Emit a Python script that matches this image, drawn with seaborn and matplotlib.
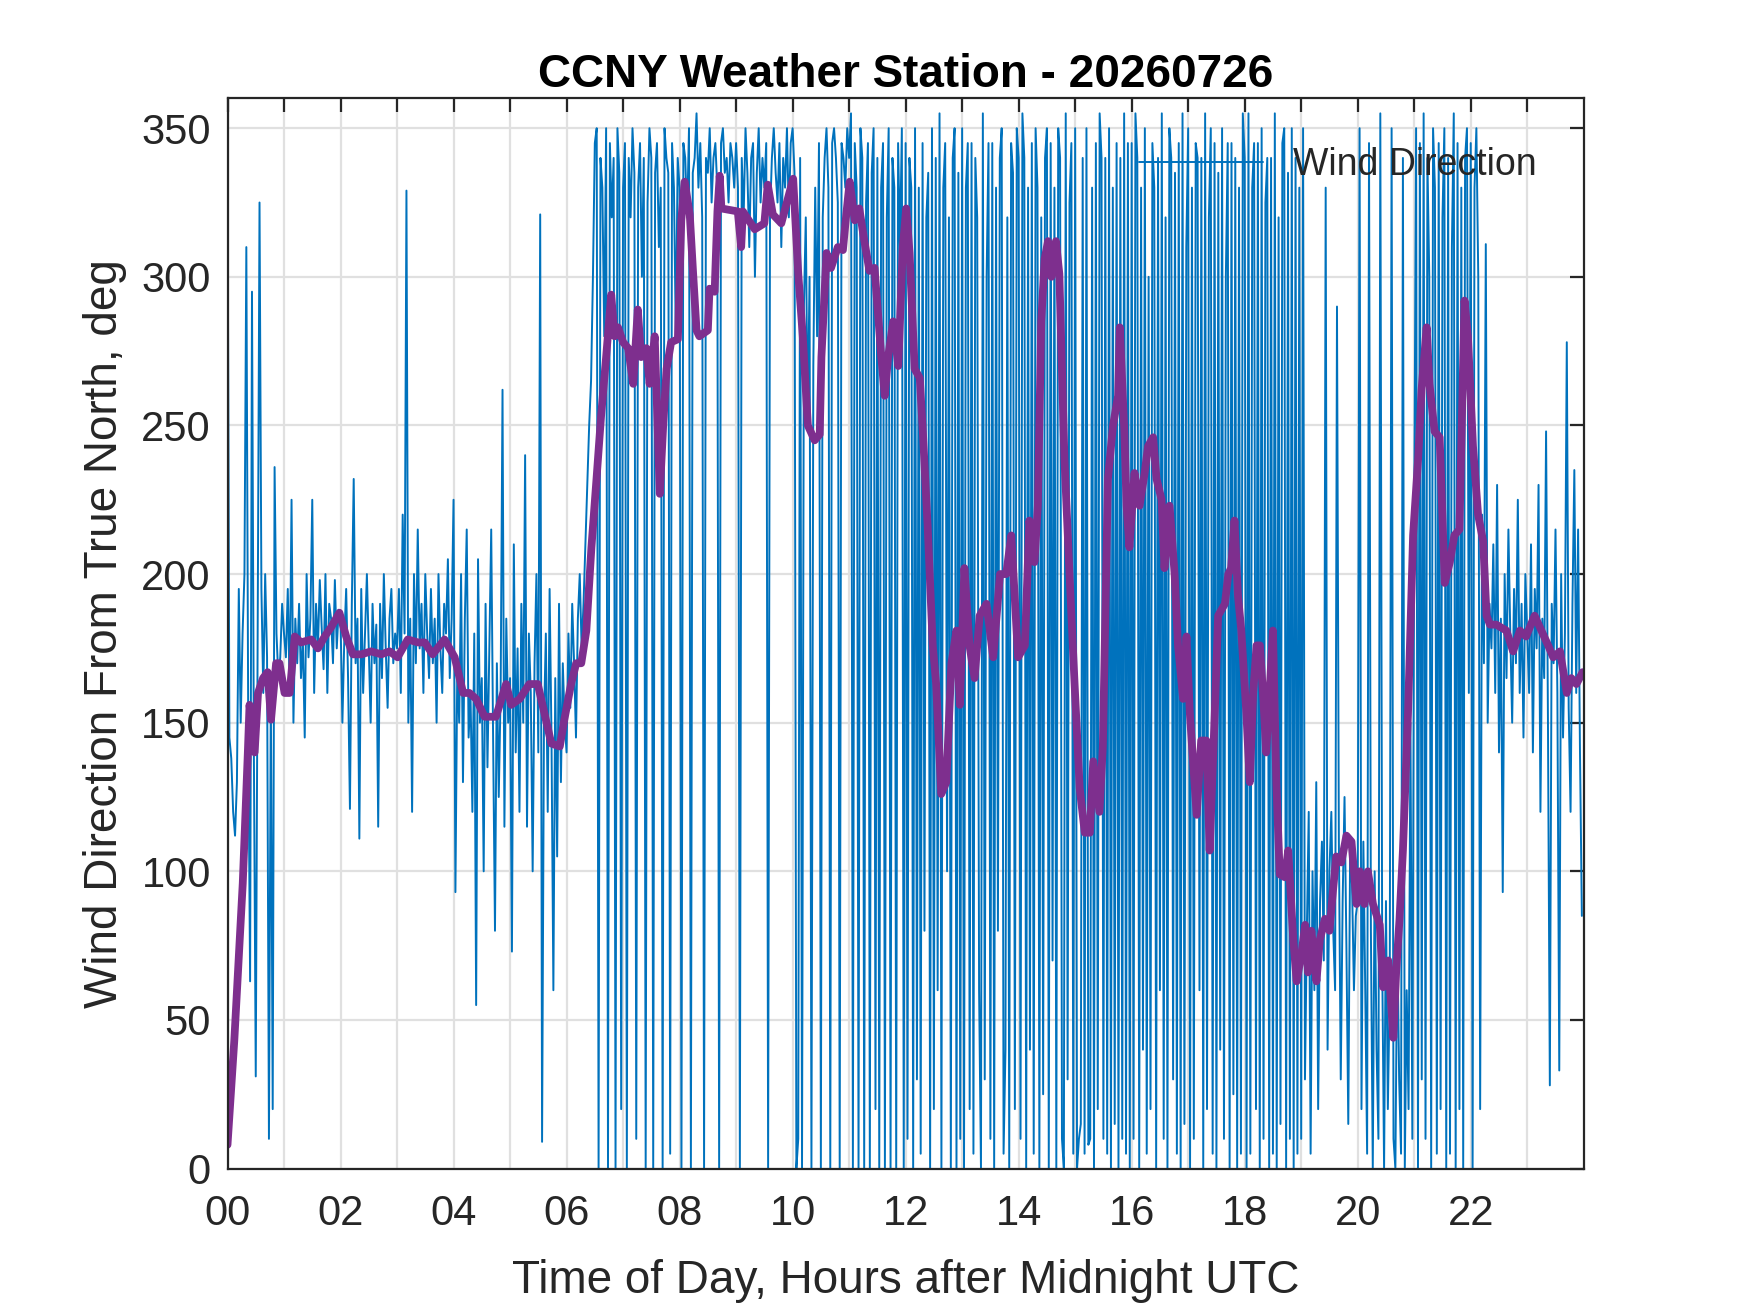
"""
Dirección del viento - estación CCNY (20260726)
Serie cruda (azul) y serie suavizada (morado), estilo MATLAB.
"""

import numpy as np
import pandas as pd
import matplotlib
matplotlib.use("Agg")
import matplotlib.pyplot as plt
import seaborn as sns

# ---------------------------------------------------------------
# Datos
# ---------------------------------------------------------------
TITULO = "CCNY Weather Station - 20260726"
XLABEL = "Time of Day, Hours after Midnight UTC"
YLABEL = "Wind Direction From True North, deg"
LEYENDA = "Wind Direction"

# dirección cruda, una fila por hora (muestras equiespaciadas dentro de la hora)
viento_h00 = [340, 145, 138, 120, 112, 130, 195, 150, 180, 200, 310, 150, 63, 295, 140,
              31, 175, 325, 195, 160, 200, 172, 10, 160, 20, 236, 180, 165, 172, 190]
viento_h01 = [180, 172, 195, 160, 225, 150, 185, 170, 190, 165, 178, 145, 200, 172, 185,
              225, 160, 190, 175, 198, 182, 168, 200, 160, 190, 185, 170, 198, 175, 188]
viento_h02 = [185, 150, 178, 195, 165, 121, 190, 232, 170, 185, 111, 195, 160, 180, 200,
              175, 150, 190, 170, 183, 115, 190, 165, 200, 175, 155, 185, 195, 170, 180]
viento_h03 = [175, 195, 160, 220, 180, 329, 150, 185, 120, 200, 170, 215, 175, 190, 160,
              200, 180, 165, 195, 170, 185, 150, 200, 175, 160, 190, 180, 205, 165, 185]
viento_h04 = [225, 93, 170, 150, 200, 130, 185, 215, 145, 160, 120, 180, 55, 205, 150,
              165, 100, 190, 135, 175, 215, 145, 80, 170, 125, 160, 262, 115, 185, 150]
viento_h05 = [165, 73, 210, 140, 175, 120, 190, 150, 240, 115, 180, 160, 100, 170, 200,
              140, 321, 9, 150, 180, 120, 195, 145, 60, 165, 105, 190, 130, 170, 150]
viento_h06 = [140, 180, 155, 190, 170, 145, 185, 200, 175, 190, 210, 230, 250, 265, 300,
              345, 350, 0, 340, 330, 280, 350, 0, 345, 320, 340, 0, 350, 335, 20]
viento_h07 = [330, 345, 0, 340, 320, 350, 335, 10, 330, 345, 300, 340, 0, 325, 350,
              340, 0, 335, 345, 310, 330, 0, 350, 340, 335, 5, 345, 330, 280, 340]
viento_h08 = [330, 0, 345, 340, 320, 350, 0, 335, 340, 355, 330, 345, 320, 0, 340,
              335, 350, 325, 340, 345, 330, 0, 345, 350, 335, 340, 325, 345, 340, 330]
viento_h09 = [345, 330, 0, 340, 320, 350, 335, 310, 340, 345, 300, 335, 350, 325, 340,
              330, 345, 0, 320, 340, 350, 335, 325, 345, 310, 340, 330, 350, 320, 345]
viento_h10 = [350, 335, 0, 10, 340, 0, 290, 320, 250, 300, 0, 270, 330, 280, 345,
              0, 320, 340, 350, 330, 0, 345, 350, 340, 325, 0, 345, 340, 330, 350]
viento_h11 = [340, 355, 0, 345, 330, 0, 350, 340, 0, 325, 345, 0, 335, 350, 20,
              340, 0, 330, 345, 0, 320, 350, 0, 340, 330, 0, 345, 310, 350, 0]
viento_h12 = [345, 10, 340, 330, 0, 350, 30, 330, 5, 345, 80, 320, 335, 0, 350,
              20, 340, 60, 355, 0, 330, 345, 100, 320, 0, 340, 350, 0, 335, 10]
viento_h13 = [350, 0, 330, 345, 20, 345, 5, 340, 320, 60, 0, 355, 30, 300, 345,
              10, 345, 0, 330, 80, 340, 350, 5, 40, 320, 0, 345, 335, 20, 350]
viento_h14 = [340, 10, 355, 340, 0, 330, 40, 345, 5, 350, 330, 0, 320, 25, 340,
              350, 0, 345, 70, 330, 0, 350, 340, 10, 0, 355, 30, 325, 345, 5]
viento_h15 = [350, 0, 10, 15, 340, 5, 350, 8, 10, 330, 0, 345, 20, 355, 340,
              10, 340, 5, 350, 0, 330, 15, 345, 0, 340, 10, 355, 5, 345, 0]
viento_h16 = [345, 10, 355, 340, 0, 330, 40, 350, 5, 300, 20, 345, 330, 0, 340,
              60, 355, 10, 320, 0, 350, 340, 30, 335, 5, 345, 0, 355, 15, 310]
viento_h17 = [350, 0, 330, 10, 345, 340, 60, 340, 0, 355, 20, 320, 350, 5, 345,
              0, 335, 40, 350, 10, 300, 345, 0, 345, 25, 340, 0, 330, 5, 355]
viento_h18 = [340, 0, 355, 5, 330, 345, 20, 345, 0, 350, 10, 325, 340, 0, 340,
              5, 355, 0, 320, 15, 345, 350, 0, 335, 10, 350, 0, 340, 5, 330]
viento_h19 = [10, 350, 30, 80, 120, 5, 100, 60, 130, 20, 90, 110, 70, 330, 40,
              100, 120, 80, 60, 290, 110, 30, 90, 125, 75, 15, 110, 95, 60, 85]
viento_h20 = [90, 350, 20, 110, 60, 5, 345, 80, 0, 100, 40, 10, 355, 70, 0,
              90, 20, 60, 350, 10, 0, 80, 30, 5, 340, 0, 60, 20, 150, 10]
viento_h21 = [220, 350, 0, 345, 30, 355, 10, 340, 300, 0, 350, 330, 5, 345, 20,
              320, 350, 0, 340, 5, 310, 355, 0, 345, 20, 330, 0, 340, 350, 160]
viento_h22 = [345, 0, 330, 350, 300, 20, 220, 170, 311, 150, 190, 175, 210, 160, 230,
              140, 185, 93, 200, 165, 215, 180, 150, 195, 170, 225, 160, 190, 145, 200]
viento_h23 = [180, 160, 210, 140, 195, 175, 230, 120, 185, 165, 248, 150, 28, 190, 170,
              215, 160, 33, 200, 145, 180, 278, 155, 120, 190, 235, 160, 215, 140, 85]

filas_viento = [viento_h00, viento_h01, viento_h02, viento_h03, viento_h04, viento_h05,
                viento_h06, viento_h07, viento_h08, viento_h09, viento_h10, viento_h11,
                viento_h12, viento_h13, viento_h14, viento_h15, viento_h16, viento_h17,
                viento_h18, viento_h19, viento_h20, viento_h21, viento_h22, viento_h23]

# serie suavizada (morada): hora, grados
suav_horas = [0.00, 0.12, 0.27, 0.36, 0.39, 0.48, 0.54, 0.63, 0.71, 0.77, 0.86, 0.92,
              1.01, 1.10, 1.19, 1.30, 1.48, 1.60, 1.72, 1.83, 1.98, 2.10, 2.22, 2.37,
              2.54, 2.72, 2.87, 3.01, 3.19, 3.37, 3.49, 3.63, 3.84, 4.02, 4.17, 4.28,
              4.40, 4.55, 4.75, 4.93, 5.02, 5.17, 5.34, 5.49, 5.61, 5.73, 5.88, 5.96,
              6.08, 6.17, 6.26, 6.35, 6.44, 6.53, 6.61, 6.70, 6.79, 6.85, 6.91, 7.00,
              7.09, 7.18, 7.26, 7.32, 7.41, 7.47, 7.56, 7.65, 7.71, 7.77, 7.85, 7.97,
              8.03, 8.09, 8.18, 8.24, 8.30, 8.35, 8.50, 8.53, 8.62, 8.67, 8.71, 8.74,
              9.03, 9.09, 9.12, 9.33, 9.50, 9.56, 9.65, 9.80, 10.01, 10.10, 10.18, 10.27,
              10.39, 10.48, 10.51, 10.60, 10.68, 10.80, 10.89, 10.95, 11.01, 11.10, 11.18,
              11.27, 11.36, 11.45, 11.57, 11.63, 11.69, 11.78, 11.87, 11.95, 12.01, 12.07,
              12.16, 12.25, 12.31, 12.39, 12.48, 12.54, 12.63, 12.72, 12.81, 12.90, 12.96,
              13.04, 13.13, 13.22, 13.31, 13.43, 13.55, 13.67, 13.78, 13.87, 13.99, 14.11,
              14.19, 14.28, 14.34, 14.40, 14.46, 14.52, 14.58, 14.66, 14.72, 14.81, 14.90,
              14.99, 15.08, 15.17, 15.26, 15.32, 15.43, 15.49, 15.58, 15.67, 15.76, 15.79,
              15.87, 15.91, 15.96, 16.05, 16.14, 16.23, 16.29, 16.38, 16.44, 16.53, 16.58,
              16.67, 16.76, 16.82, 16.91, 16.97, 17.03, 17.15, 17.23, 17.32, 17.38, 17.47,
              17.53, 17.65, 17.71, 17.76, 17.82, 17.88, 17.94, 18.03, 18.09, 18.15, 18.21,
              18.27, 18.33, 18.38, 18.44, 18.50, 18.56, 18.62, 18.71, 18.77, 18.86, 18.92,
              19.01, 19.07, 19.12, 19.18, 19.27, 19.33, 19.42, 19.50, 19.56, 19.62, 19.71,
              19.80, 19.89, 19.98, 20.04, 20.12, 20.18, 20.27, 20.39, 20.45, 20.54, 20.63,
              20.68, 20.74, 20.80, 20.89, 20.98, 21.07, 21.13, 21.22, 21.27, 21.36, 21.45,
              21.54, 21.63, 21.71, 21.80, 21.89, 21.95, 22.04, 22.13, 22.22, 22.28, 22.34,
              22.45, 22.63, 22.75, 22.87, 22.98, 23.13, 23.25, 23.37, 23.46, 23.58, 23.70,
              23.78, 23.87, 23.98]
suav_grados = [8, 43, 96, 140, 156, 140, 160, 165, 167, 151, 170, 170,
               160, 160, 179, 177, 178, 175, 179, 182, 187, 179, 173, 173,
               174, 173, 174, 172, 178, 177, 177, 173, 178, 172, 160, 160,
               158, 152, 152, 163, 156, 158, 163, 163, 153, 143, 142, 151,
               163, 170, 170, 181, 209, 232, 253, 273, 294, 280, 283, 278,
               276, 264, 289, 273, 276, 264, 280, 227, 250, 269, 278, 279,
               319, 332, 321, 301, 282, 280, 282, 296, 295, 322, 334, 323,
               322, 310, 322, 316, 318, 331, 321, 318, 333, 301, 280, 250,
               245, 247, 273, 308, 303, 310, 309, 321, 332, 319, 323,
               312, 302, 303, 273, 260, 273, 285, 270, 310, 323, 308,
               269, 266, 246, 216, 176, 163, 126, 130, 170, 181, 156,
               202, 176, 165, 186, 190, 172, 200, 200, 213, 172, 176,
               218, 204, 223, 285, 306, 312, 300, 312, 301, 239, 200,
               163, 128, 113, 113, 137, 120, 142, 232, 250, 260, 283,
               248, 223, 209, 234, 223, 234, 243, 246, 232, 225, 202,
               223, 200, 176, 158, 179, 153, 119, 144, 144, 107, 153,
               186, 190, 200, 202, 218, 193, 181, 153, 130, 160, 176,
               176, 158, 140, 160, 181, 130, 99, 98, 107, 77, 63,
               73, 82, 66, 80, 63, 77, 84, 80, 93, 105, 103,
               112, 110, 89, 100, 89, 100, 89, 82, 61, 70, 44,
               66, 84, 107, 153, 213, 239, 262, 283, 264, 248, 246,
               197, 204, 213, 215, 292, 280, 243, 220, 211, 186, 183,
               183, 181, 174, 181, 179, 186, 181, 176, 172, 174, 160,
               165, 163, 167]

AZUL = "#0072BD"
MORADO = "#7E2F8E"
GRIS = "#262626"

# ---------------------------------------------------------------
# Tablas para seaborn
# ---------------------------------------------------------------
horas_crudas, grados_crudos = [], []
for h, fila in enumerate(filas_viento):
    n = len(fila)
    for i, v in enumerate(fila):
        horas_crudas.append(h + i / n)
        grados_crudos.append(v)

df_crudo = pd.DataFrame({"hora": horas_crudas, "grados": grados_crudos})
df_suav = pd.DataFrame({"hora": suav_horas, "grados": suav_grados})

# ---------------------------------------------------------------
# Estilo
# ---------------------------------------------------------------
sns.set_style("white")
plt.rcParams["font.family"] = ["Liberation Sans", "DejaVu Sans"]
plt.rcParams["xtick.direction"] = "in"
plt.rcParams["ytick.direction"] = "in"

fig = plt.figure(figsize=(8.75, 6.565), dpi=200)
ax = fig.add_axes([0.13, 0.11, 0.775, 0.815])

sns.lineplot(data=df_crudo, x="hora", y="grados", ax=ax, color=AZUL,
             linewidth=0.7, estimator=None, sort=False, legend=False)
sns.lineplot(data=df_suav, x="hora", y="grados", ax=ax, color=MORADO,
             linewidth=2.8, estimator=None, sort=False, legend=False)

ax.set_xlim(0, 24)
ax.set_ylim(0, 360)
ax.set_xticks(np.arange(0, 24, 1))
ax.set_xticklabels([f"{h:02d}" if h % 2 == 0 else "" for h in range(24)])
ax.set_yticks(np.arange(0, 351, 50))

ax.grid(True, color="#e0e0e0", linewidth=0.8)
ax.set_axisbelow(True)
for lado in ax.spines.values():
    lado.set_color(GRIS)
    lado.set_linewidth(0.8)
ax.tick_params(axis="both", which="both", colors=GRIS, labelsize=15,
               top=True, right=True, length=5, width=0.8)
ax.tick_params(axis="x", pad=9)
ax.tick_params(axis="y", pad=6)

ax.set_xlabel(XLABEL, fontsize=16.5, color=GRIS, labelpad=9)
ax.set_ylabel(YLABEL, fontsize=16.5, color=GRIS, labelpad=5)
ax.set_title(TITULO, fontsize=16.5, fontweight="bold", color="black", pad=4)

linea_azul = ax.get_lines()[0]
ax.legend([linea_azul], [LEYENDA], loc="upper right", frameon=False,
          fontsize=13.5, handlelength=3.3, borderaxespad=0.6,
          bbox_to_anchor=(0.993, 0.99))

fig.savefig("out.png", dpi=200)
plt.close(fig)
